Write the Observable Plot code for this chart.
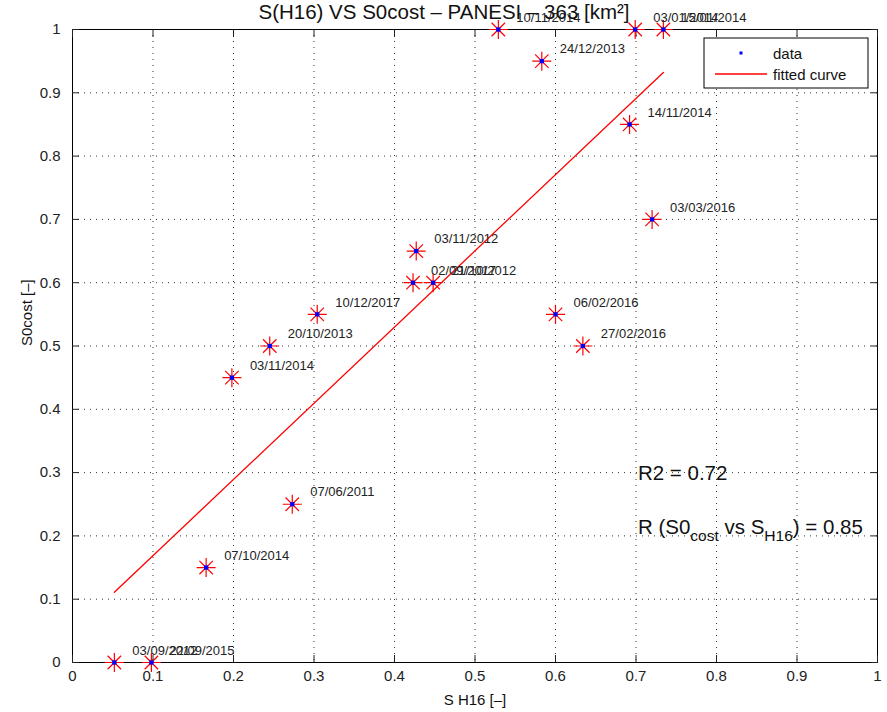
<!DOCTYPE html>
<html><head><meta charset="utf-8">
<script src="https://cdn.jsdelivr.net/npm/d3@7"></script>
<script src="https://cdn.jsdelivr.net/npm/@observablehq/plot@0.6"></script>
<style>
body{margin:0;background:#fff;}
#chart svg{font-family:"Liberation Sans",Arial,Helvetica,sans-serif;}
</style>
</head><body><div id="chart"></div>
<script>
// ---- data ----
const sH16 = [0.529, 0.583, 0.699, 0.734, 0.692, 0.720, 0.427, 0.423, 0.448, 0.600, 0.634, 0.304, 0.245, 0.198, 0.273, 0.166, 0.052, 0.098];
const s0cost = [1.00, 0.95, 1.00, 1.00, 0.85, 0.70, 0.65, 0.60, 0.60, 0.55, 0.50, 0.55, 0.50, 0.45, 0.25, 0.15, 0.00, 0.00];
const dates = ["10/11/2014","24/12/2013","03/01/2014","15/01/2014","14/11/2014","03/03/2016","03/11/2012","02/09/2017","21/10/2012","06/02/2016","27/02/2016","10/12/2017","20/10/2013","03/11/2014","07/06/2011","07/10/2014","03/09/2012","22/09/2015"];
const fitX = [0.052, 0.734];
const fitY = [0.111, 0.932];
const xTicks = [0,0.1,0.2,0.3,0.4,0.5,0.6,0.7,0.8,0.9,1];
const yTicks = [0,0.1,0.2,0.3,0.4,0.5,0.6,0.7,0.8,0.9,1];
const tickLabels = ["0","0.1","0.2","0.3","0.4","0.5","0.6","0.7","0.8","0.9","1"];
const titleText = "S(H16) VS S0cost \u2013 PANESI \u2013 363 [km\u00B2]";
const xLabel = "S H16 [\u2013]";
const yLabel = "S0cost [\u2013]";
const r2Text = "R2 = 0.72";
const rValue = "0.85";
const legendItems = ["data", "fitted curve"];

const pts = sH16.map((x,i)=>({x, y:s0cost[i], label:dates[i]}));
const fit = fitX.map((x,i)=>({x, y:fitY[i]}));

const asterisk8 = {
  draw(ctx, size){
    const r = Math.sqrt(size/Math.PI);
    const d = r*Math.SQRT1_2;
    ctx.moveTo(-r,0); ctx.lineTo(r,0);
    ctx.moveTo(0,-r); ctx.lineTo(0,r);
    ctx.moveTo(-d,-d); ctx.lineTo(d,d);
    ctx.moveTo(-d,d); ctx.lineTo(d,-d);
  }
};
const fmt = d => tickLabels[xTicks.indexOf(d)] ?? String(d);
const gridStyle = {stroke:"black", strokeOpacity:0.8, strokeWidth:1, strokeDasharray:"1,5"};

const plot = Plot.plot({
  width: 887, height: 712,
  marginLeft: 72, marginRight: 10, marginTop: 29, marginBottom: 50,
  style: {fontFamily:'"Liberation Sans",Arial,Helvetica,sans-serif', fontSize:"15px", color:"#222"},
  x: {domain:[0,1]},
  y: {domain:[0,1]},
  marks: [
    Plot.gridX(xTicks, gridStyle),
    Plot.gridY(yTicks, gridStyle),
    Plot.frame({stroke:"black", strokeWidth:1}),
    Plot.axisX(xTicks, {anchor:"bottom", tickSize:0, tickPadding:8, tickFormat:fmt, label:null, fontSize:15}),
    Plot.axisX(xTicks, {anchor:"bottom", tickSize:-7, tickFormat:()=>"", label:null}),
    Plot.axisX(xTicks, {anchor:"top", tickSize:-7, tickFormat:()=>"", label:null}),
    Plot.axisY(yTicks, {anchor:"left", tickSize:0, tickPadding:12, tickFormat:fmt, label:null, fontSize:15}),
    Plot.axisY(yTicks, {anchor:"left", tickSize:-7, tickFormat:()=>"", label:null}),
    Plot.axisY(yTicks, {anchor:"right", tickSize:-7, tickFormat:()=>"", label:null}),
    Plot.line(fit, {x:"x", y:"y", stroke:"red", strokeWidth:1.3}),
    Plot.dot(pts, {x:"x", y:"y", symbol: asterisk8, r:9.5, stroke:"red", strokeWidth:1.2}),
    Plot.dot(pts, {x:"x", y:"y", symbol:"square", r:2.4, fill:"blue", stroke:"none"}),
    Plot.text(pts, {x:"x", y:"y", text:"label", dx:18, dy:-12, textAnchor:"start", fontSize:13, fill:"#222"}),
    Plot.text([titleText], {frameAnchor:"top", dx:-31, dy:-17, lineAnchor:"middle", fontSize:20.5, fill:"#111"}),
    Plot.text([xLabel], {frameAnchor:"bottom", dy:38, lineAnchor:"middle", fontSize:15, fill:"#111"}),
    Plot.text([yLabel], {frameAnchor:"left", dx:-45, rotate:-90, lineAnchor:"middle", fontSize:15, fill:"#111"})
  ]
});
document.getElementById("chart").append(plot);

// annotations with the plot's scales
const svg = d3.select(plot);
const sx = plot.scale("x"), sy = plot.scale("y");
const ax = sx.apply(0.703);
const ann = svg.append("g").attr("text-anchor","start").attr("fill","#111").attr("font-size",20.5);
ann.append("text").attr("x", ax).attr("y", sy.apply(0.287)).text(r2Text);
const t2 = ann.append("text").attr("x", ax).attr("y", sy.apply(0.203));
t2.append("tspan").text("R (S0");
t2.append("tspan").attr("font-size",15.5).attr("dy",7).text("cost");
t2.append("tspan").attr("dy",-7).text(" vs S");
t2.append("tspan").attr("font-size",15.5).attr("dy",7).text("H16");
t2.append("tspan").attr("dy",-7).text(") = " + rValue);

// legend
const lg = svg.append("g").attr("font-size",15).attr("fill","#111").attr("text-anchor","start");
lg.append("rect").attr("x",704).attr("y",38).attr("width",164).attr("height",50).attr("fill","white").attr("stroke","black");
lg.append("rect").attr("x",739.5).attr("y",51.5).attr("width",3).attr("height",3).attr("fill","blue");
lg.append("text").attr("x",773).attr("y",59).text(legendItems[0]);
lg.append("line").attr("x1",715).attr("x2",767).attr("y1",74).attr("y2",74).attr("stroke","red").attr("stroke-width",1.3);
lg.append("text").attr("x",773).attr("y",80).text(legendItems[1]);
</script>
</body></html>
